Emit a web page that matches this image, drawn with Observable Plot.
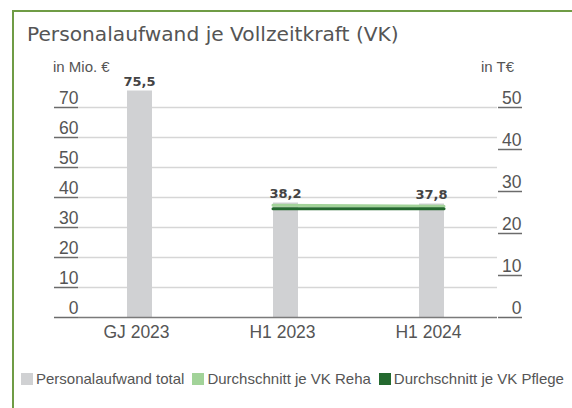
<!DOCTYPE html>
<html>
<head>
<meta charset="utf-8">
<script src="https://cdn.jsdelivr.net/npm/d3@7"></script>
<script src="https://cdn.jsdelivr.net/npm/@observablehq/plot@0.6"></script>
<style>
  html, body { margin: 0; padding: 0; background: #fff; }
  #wrap { position: relative; width: 572px; height: 408px; overflow: hidden; }
  #frameTop { position: absolute; left: 12px; top: 10px; width: 560px; height: 2px; background: #6f9c45; }
  #frameLeft { position: absolute; left: 12px; top: 10px; width: 2px; height: 398px; background: #6f9c45; }
  #title { position: absolute; left: 27px; top: 22px; font-family: "DejaVu Sans", sans-serif; font-size: 20.2px; color: #555; white-space: nowrap; }
  .unit { position: absolute; top: 58px; font-family: "Liberation Sans", Arial, sans-serif; font-size: 15px; color: #555; white-space: nowrap; }
  #chart { position: absolute; left: 0; top: 0; }
  #legend { position: absolute; left: 21px; top: 370px; display: flex; align-items: center; font-family: "Liberation Sans", Arial, sans-serif; font-size: 15px; color: #555; white-space: nowrap; }
  .item { display: flex; align-items: center; margin-right: 8px; }
  .sw { width: 12px; height: 12px; margin-right: 3px; }
</style>
</head>
<body>
<div id="wrap">
  <div id="frameTop"></div>
  <div id="frameLeft"></div>
  <div id="title">Personalaufwand je Vollzeitkraft (VK)</div>
  <div class="unit" style="left:53px">in Mio. €</div>
  <div class="unit" style="left:481px">in T€</div>
  <div id="chart"></div>
  <div id="legend"></div>
</div>
<script>
// ---- data ----
const categories = ["GJ 2023", "H1 2023", "H1 2024"];
const totalValues = [75.5, 38.2, 37.8];           // Personalaufwand total (Mio. €)
const rehaCategories = ["H1 2023", "H1 2024"];
const rehaValues = [26.7, 26.5];                   // Durchschnitt je VK Reha (T€)
const pflegeValues = [25.9, 25.9];                 // Durchschnitt je VK Pflege (T€)
const leftTicks = [0, 10, 20, 30, 40, 50, 60, 70];
const rightTicks = [0, 10, 20, 30, 40, 50];
const seriesNames = ["Personalaufwand total", "Durchschnitt je VK Reha", "Durchschnitt je VK Pflege"];
const seriesColors = ["#d0d1d3", "#a2d399", "#24692f"];

// right axis (T€) mapped onto left scale (Mio. €): 50 T€ ↔ 70 Mio. €
const k = 70 / 50;
const fmt = v => v.toFixed(1).replace(".", ",");

const bars = categories.map((c, i) => ({i, c, v: totalValues[i]}));
const barHalf = 12.5 / 146; // half bar width in x units
function avgLine(vals) {
  const idx = rehaCategories.map(c => categories.indexOf(c));
  return [
    {x: idx[0] - barHalf, y: vals[0] * k},
    {x: idx[idx.length - 1] + barHalf, y: vals[vals.length - 1] * k}
  ];
}
const rightPos = rightTicks.map(v => v * k);
const tickStyle = {tickSize: 24, stroke: "#6b6b6b", strokeWidth: 1.5, tickFormat: () => "", label: null};
const labelStyle = {tickSize: 0, textAnchor: "end", dy: -9, fontSize: 17.5,
  fontFamily: "Liberation Sans", fill: "#555", label: null};

const chart = Plot.plot({
  width: 572,
  height: 352,
  marginLeft: 78,
  marginRight: 75,
  marginTop: 80,
  marginBottom: 35,
  style: {background: "transparent", overflow: "visible"},
  x: {type: "linear", domain: [0, 2], range: [139, 431]},
  y: {domain: [0, 70], range: [317, 107]},
  marks: [
    Plot.ruleY(leftTicks.filter(d => d > 0), {stroke: "#d6d6d6", strokeWidth: 1.5}),
    Plot.ruleX(bars, {x: "i", y1: 0, y2: "v", stroke: seriesColors[0], strokeWidth: 25}),
    Plot.line(avgLine(rehaValues), {x: "x", y: "y", stroke: seriesColors[1], strokeWidth: 3}),
    Plot.line(avgLine(pflegeValues), {x: "x", y: "y", stroke: seriesColors[2], strokeWidth: 3}),
    Plot.ruleY([0], {stroke: "#7a7a7a", strokeWidth: 1.5}),
    Plot.text(bars, {x: "i", y: "v", text: d => fmt(d.v), dy: -5, lineAnchor: "bottom",
      fontFamily: "DejaVu Sans", fontWeight: "bold", fontSize: 13, fill: "#444"}),
    Plot.axisY(leftTicks, {anchor: "left", ...tickStyle}),
    Plot.axisY(leftTicks, {anchor: "left", tickPadding: 0, ...labelStyle}),
    Plot.axisY(rightPos, {anchor: "right", ...tickStyle}),
    Plot.axisY(rightPos, {anchor: "right", tickPadding: 24, ...labelStyle, tickFormat: d => Math.round(d / k)}),
    Plot.axisX([0, 1, 2], {anchor: "bottom", tickSize: 0, tickPadding: 8, dx: -3,
      tickFormat: i => categories[i], fontSize: 17.5, fontFamily: "Liberation Sans", fill: "#555", label: null})
  ]
});
document.getElementById("chart").appendChild(chart);

// legend
const legend = document.getElementById("legend");
seriesNames.forEach((name, i) => {
  const item = document.createElement("div");
  item.className = "item";
  const sw = document.createElement("div");
  sw.className = "sw";
  sw.style.background = seriesColors[i];
  const t = document.createElement("span");
  t.textContent = name;
  item.appendChild(sw);
  item.appendChild(t);
  legend.appendChild(item);
});
</script>
</body>
</html>
